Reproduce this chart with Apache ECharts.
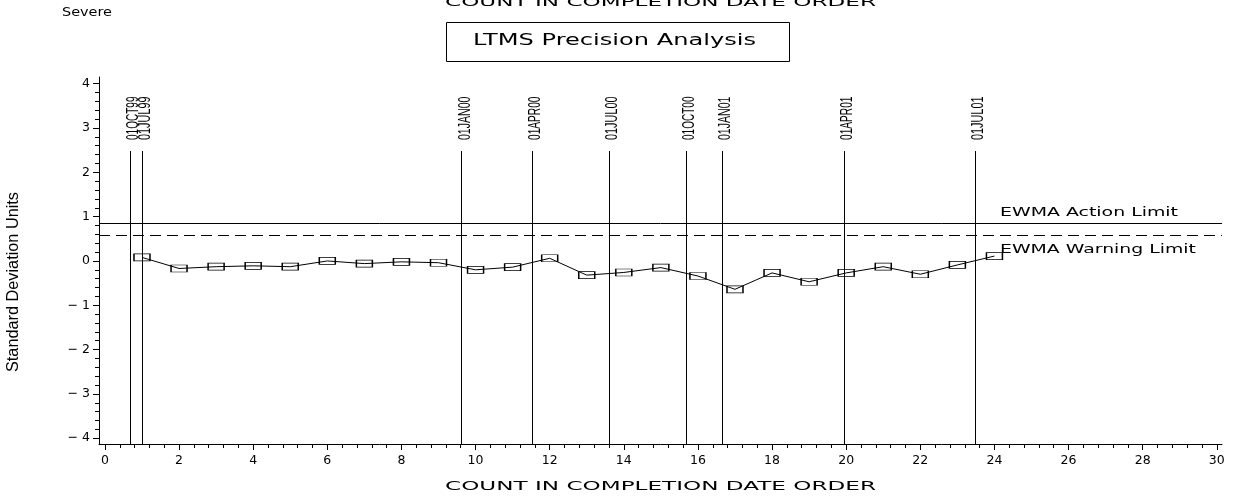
<!DOCTYPE html>
<html><head><meta charset="utf-8">
<script src="https://cdn.jsdelivr.net/npm/echarts@6/dist/echarts.min.js"></script>
<style>html,body{margin:0;padding:0;background:#fff}#c{width:1245px;height:499px}</style>
</head><body><div id="c"></div>
<script>
// ---- data ----
const testCounts = [1,2,3,4,5,6,7,8,9,10,11,12,13,14,15,16,17,18,19,20,21,22,23,24];
const ewmaValues = [0.08,-0.17,-0.13,-0.11,-0.13,0.00,-0.06,-0.02,-0.04,-0.20,-0.14,0.06,-0.32,-0.26,-0.15,-0.34,-0.64,-0.27,-0.47,-0.27,-0.13,-0.30,-0.09,0.11];
const dateLabels = ['01OCT99','01JUL99','01JAN00','01APR00','01JUL00','01OCT00','01JAN01','01APR01','01JUL01'];
const datePositions = [0.67,1.00,9.62,11.51,13.61,15.69,16.64,19.95,23.47];
const actionLimit = 0.86;
const warningLimit = 0.59;
const xTickLabels = [0,2,4,6,8,10,12,14,16,18,20,22,24,26,28,30];
const yTickLabels = [-4,-3,-2,-1,0,1,2,3,4];

// ---- layout / style constants ----
const X_MIN = -0.16, X_MAX = 30.14, Y_MIN = -4.13, Y_MAX = 4.15;
const MARKER_TOP = 2.48;
const xMinor = []; for (let i = 0; i <= 75; i++) xMinor.push(Math.round(i * 0.4 * 10) / 10);
const yMinor = []; for (let i = 0; i <= 40; i++) yMinor.push(Math.round((-4 + i * 0.2) * 10) / 10);

const mctx = document.createElement('canvas').getContext('2d');
function fit(text, font, target) { mctx.font = font; return target / mctx.measureText(text).width; }

const wideFont = (s) => s + 'px "DejaVu Sans"';
const narrowFont = (s) => s + 'px "Liberation Sans", Arial, sans-serif';

function hText(text, left, cy, font, width) {
  return { type: 'text', x: left, y: cy, scaleX: fit(text, font, width), silent: true,
    style: { text, font, fill: '#000', align: 'left', verticalAlign: 'middle' } };
}

const dateFont = narrowFont(16.5);
const yNameFont = narrowFont(16);

const chart = echarts.init(document.getElementById('c'), null, { renderer: 'canvas' });
chart.setOption({
  animation: false,
  backgroundColor: '#fff',
  grid: { left: 99, right: 23, top: 77, bottom: 55, containLabel: false },
  xAxis: [{
    type: 'value', min: X_MIN, max: X_MAX,
    axisLine: { show: true, onZero: false, lineStyle: { color: '#000', width: 1 } },
    axisTick: { show: true, length: 6, customValues: xTickLabels, lineStyle: { color: '#000' } },
    axisLabel: { customValues: xTickLabels, color: '#000', fontFamily: 'DejaVu Sans', fontSize: 12.5, margin: 10 },
    splitLine: { show: false }
  }, {
    type: 'value', min: X_MIN, max: X_MAX, position: 'bottom',
    axisLine: { show: false, onZero: false },
    axisTick: { show: true, length: 4, customValues: xMinor, lineStyle: { color: '#000' } },
    axisLabel: { show: false }, splitLine: { show: false }
  }],
  yAxis: [{
    type: 'value', min: Y_MIN, max: Y_MAX,
    axisLine: { show: true, onZero: false, lineStyle: { color: '#000', width: 1 } },
    axisTick: { show: true, length: 6, customValues: yTickLabels, lineStyle: { color: '#000' } },
    axisLabel: { customValues: yTickLabels, color: '#000', fontFamily: 'DejaVu Sans', fontSize: 12.5, margin: 9,
      formatter: v => v < 0 ? '\u2212 ' + Math.abs(v) : String(v) },
    splitLine: { show: false }
  }, {
    type: 'value', min: Y_MIN, max: Y_MAX, position: 'left',
    axisLine: { show: false, onZero: false },
    axisTick: { show: true, length: 4, customValues: yMinor, lineStyle: { color: '#000' } },
    axisLabel: { show: false }, splitLine: { show: false }
  }],
  series: [{
    type: 'custom', xAxisIndex: 0, yAxisIndex: 0, silent: true, z: 2,
    data: datePositions.map((x, i) => [x, i]),
    renderItem(params, api) {
      const x = api.value(0);
      const top = api.coord([x, MARKER_TOP]);
      const bot = api.coord([x, Y_MIN]);
      const px = Math.round(top[0]) + 0.5;
      const label = dateLabels[params.dataIndex];
      return { type: 'group', children: [
        { type: 'line', shape: { x1: px, y1: top[1], x2: px, y2: bot[1] }, style: { stroke: '#000', lineWidth: 1 } },
        { type: 'text', x: top[0] + 3.5, y: top[1] - 11, rotation: Math.PI / 2, scaleX: fit(label, dateFont, 43.5),
          style: { text: label, font: dateFont, fill: '#000', align: 'left', verticalAlign: 'middle' } }
      ] };
    }
  }, {
    type: 'line', xAxisIndex: 0, yAxisIndex: 0, z: 3,
    data: testCounts.map((c, i) => [c, ewmaValues[i]]),
    symbol: 'rect', symbolSize: [16, 7],
    itemStyle: { color: 'rgba(255,255,255,0)', borderColor: '#000', borderWidth: 1 },
    lineStyle: { color: '#000', width: 1 },
    markLine: {
      silent: true, symbol: ['none', 'none'], label: { show: false },
      lineStyle: { color: '#000', width: 1 },
      data: [
        { yAxis: actionLimit, lineStyle: { color: '#000', type: 'solid', width: 1 } },
        { yAxis: warningLimit, lineStyle: { color: '#000', type: [11, 6], width: 1 } }
      ]
    }
  }],
  graphic: [
    hText('COUNT IN COMPLETION DATE ORDER', 445, 2.5, wideFont(12), 431),
    hText('Severe', 62, 13, wideFont(12), 50),
    { type: 'rect', shape: { x: 446.5, y: 22.5, width: 343, height: 39 }, silent: true,
      style: { fill: 'none', stroke: '#000', lineWidth: 1 } },
    hText('LTMS Precision Analysis', 473, 41, wideFont(16), 283),
    hText('EWMA Action Limit', 1000, 213, wideFont(11.5), 178),
    hText('EWMA Warning Limit', 1000, 250, wideFont(11.5), 196),
    hText('COUNT IN COMPLETION DATE ORDER', 445, 487, wideFont(12), 431),
    { type: 'text', x: 14, y: 282, rotation: Math.PI / 2, scaleX: fit('Standard Deviation Units', yNameFont, 180), silent: true,
      style: { text: 'Standard Deviation Units', font: yNameFont, fill: '#000', align: 'center', verticalAlign: 'middle' } }
  ]
});
</script></body></html>
